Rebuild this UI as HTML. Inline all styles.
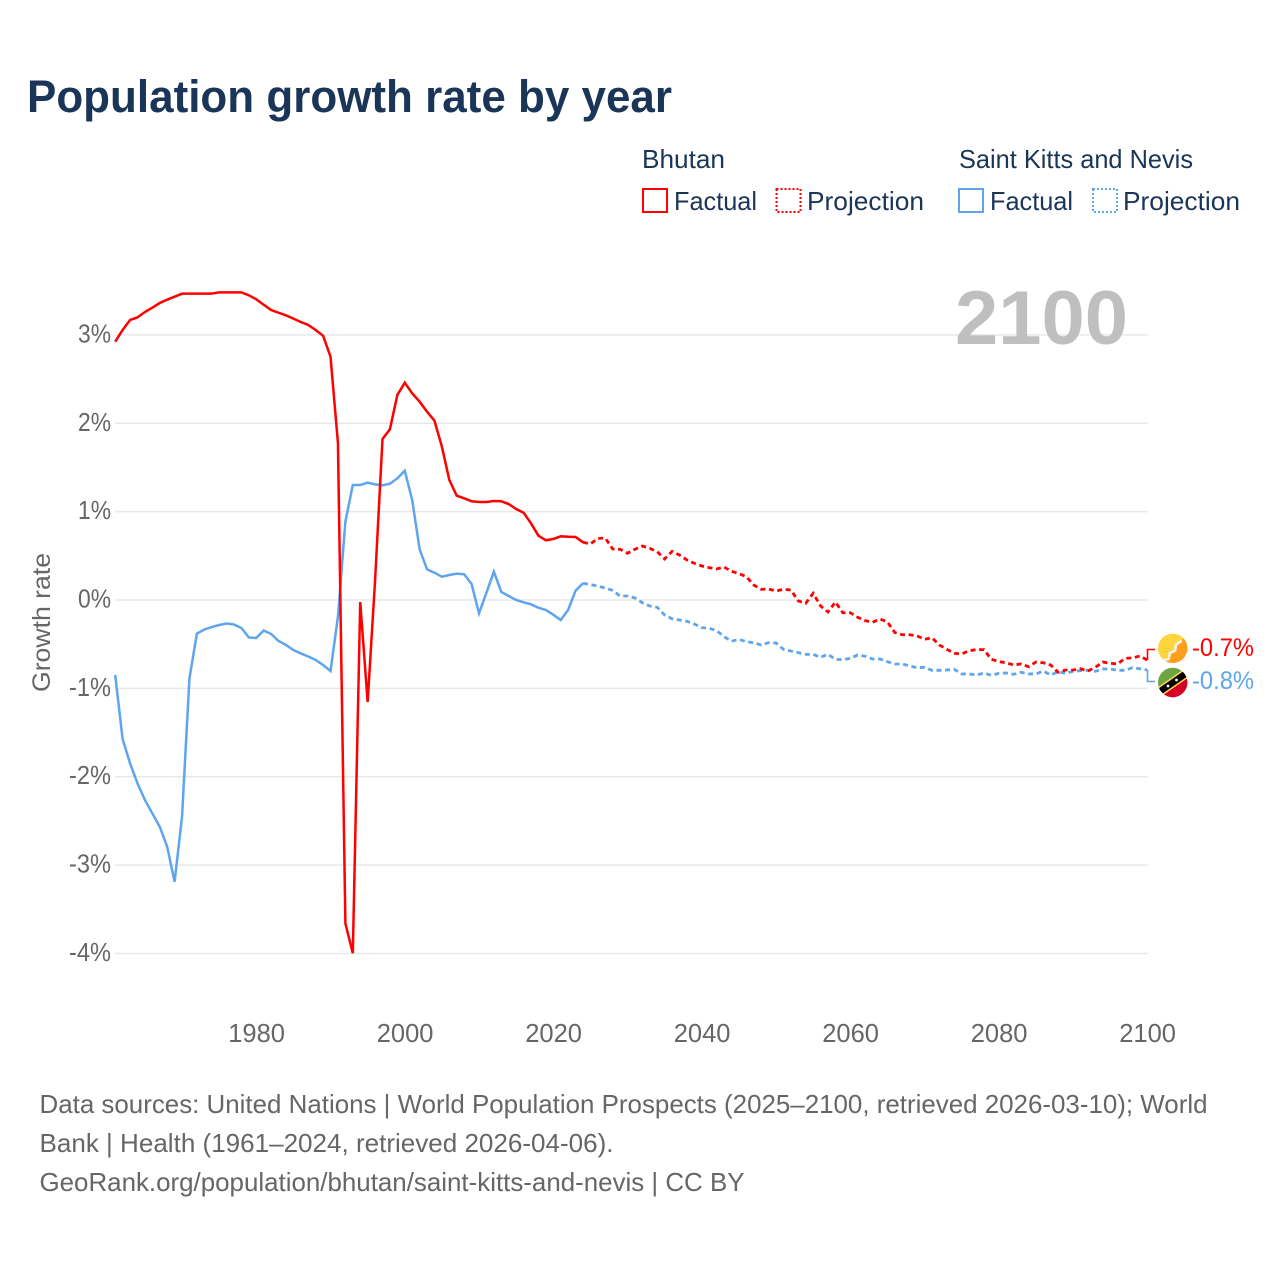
<!DOCTYPE html>
<html lang="en">
<head>
<meta charset="utf-8">
<title>Population growth rate by year</title>
<style>
html,body{margin:0;padding:0;background:#fff;width:1280px;height:1280px;overflow:hidden}
svg{display:block;font-family:"Liberation Sans",sans-serif}
</style>
</head>
<body>
<svg id="chart" xmlns="http://www.w3.org/2000/svg" width="1280" height="1280" viewBox="0 0 1280 1280">
  <rect width="1280" height="1280" fill="#fff"/>
  <text x="27" y="112" font-size="45" font-weight="700" fill="#1a3557" textLength="645" lengthAdjust="spacingAndGlyphs">Population growth rate by year</text>

  <g font-size="26" fill="#1a3557">
    <text x="642" y="168" textLength="83" lengthAdjust="spacingAndGlyphs">Bhutan</text>
    <text x="959" y="168" textLength="234" lengthAdjust="spacingAndGlyphs">Saint Kitts and Nevis</text>
    <rect x="643" y="189" width="24" height="23" fill="none" stroke="#ff0000" stroke-width="2"/>
    <text x="674" y="210" textLength="83" lengthAdjust="spacingAndGlyphs">Factual</text>
    <rect x="776.5" y="189" width="24" height="23" fill="none" stroke="#ff0000" stroke-width="2" stroke-dasharray="2 2"/>
    <text x="807" y="210" textLength="117" lengthAdjust="spacingAndGlyphs">Projection</text>
    <rect x="959" y="189" width="24" height="23" fill="none" stroke="#5ea5ee" stroke-width="2"/>
    <text x="990" y="210" textLength="83" lengthAdjust="spacingAndGlyphs">Factual</text>
    <rect x="1093" y="189" width="24" height="23" fill="none" stroke="#5ea5ee" stroke-width="2" stroke-dasharray="2 2"/>
    <text x="1123" y="210" textLength="117" lengthAdjust="spacingAndGlyphs">Projection</text>
  </g>

  <g id="grid"></g>
  <text x="955" y="344" font-size="76" font-weight="700" fill="#bfbfbf" textLength="173" lengthAdjust="spacingAndGlyphs">2100</text>
  <g id="yticks" font-size="25.5" fill="#666"></g>
  <g id="xticks" font-size="25.5" fill="#666"></g>
  <text transform="translate(50 692) rotate(-90)" font-size="25" fill="#666" textLength="139" lengthAdjust="spacingAndGlyphs">Growth rate</text>
  <g id="series"></g>

  <path d="M1147.5 660V649.5H1155" fill="none" stroke="#ff0000" stroke-width="1.6"/>
  <path d="M1147.5 670V681.5H1155" fill="none" stroke="#5ea5ee" stroke-width="1.6"/>

  <defs>
    <clipPath id="clip-bt"><circle cx="1172.7" cy="648.3" r="14.7"/></clipPath>
    <clipPath id="clip-kn"><circle cx="1172.7" cy="682.5" r="14.7"/></clipPath>
  </defs>
  <g clip-path="url(#clip-bt)">
    <rect x="1157" y="633" width="32" height="32" fill="#ffd53d"/>
    <path d="M1189 632V665H1160Z" fill="#ff9d1c"/>
    <path d="M1163 660.5L1168.5 659L1170 653L1175 650.7L1176 644.7L1181.7 640.7" fill="none" stroke="#f6efe0" stroke-width="2.8"/>
  </g>
  <g clip-path="url(#clip-kn)">
    <rect x="1157" y="667" width="32" height="32" fill="#6da544"/>
    <path d="M1150 704L1196 672V700H1150Z" fill="#d80027"/>
    <path d="M1150 698.3L1195 667.2" stroke="#ffda44" stroke-width="9.5"/>
    <path d="M1150 698.3L1195 667.2" stroke="#000" stroke-width="6.5"/>
    <circle cx="1168" cy="686" r="1.4" fill="#fff"/>
    <circle cx="1176.5" cy="680" r="1.4" fill="#fff"/>
  </g>

  <text x="1192" y="656" font-size="25" fill="#ff0000" textLength="62" lengthAdjust="spacingAndGlyphs">-0.7%</text>
  <text x="1192" y="689" font-size="25" fill="#5ea5ee" textLength="62" lengthAdjust="spacingAndGlyphs">-0.8%</text>

  <g font-size="26" fill="#666">
    <text x="39.5" y="1113" textLength="1168" lengthAdjust="spacingAndGlyphs">Data sources: United Nations | World Population Prospects (2025–2100, retrieved 2026-03-10); World</text>
    <text x="39.5" y="1152" textLength="574" lengthAdjust="spacingAndGlyphs">Bank | Health (1961–2024, retrieved 2026-04-06).</text>
    <text x="39.5" y="1191" textLength="705" lengthAdjust="spacingAndGlyphs">GeoRank.org/population/bhutan/saint-kitts-and-nevis | CC BY</text>
  </g>
</svg>
<script>
var yTickValues = [3, 2, 1, 0, -1, -2, -3, -4];
var yTickLabels = ["3%", "2%", "1%", "0%", "-1%", "-2%", "-3%", "-4%"];
var xTickYears = [1980, 2000, 2020, 2040, 2060, 2080, 2100];
var factualStartYear = 1961;
var projectionStartYear = 2024;

var bhutanFactual = [2.923,3.056,3.169,3.199,3.259,3.308,3.361,3.399,3.433,3.467,3.467,3.467,3.467,3.467,3.482,3.482,3.482,3.482,3.448,3.403,3.342,3.282,3.251,3.222,3.184,3.146,3.112,3.056,2.991,2.753,1.777,-3.659,-3.998,-0.023,-1.154,0.22,1.822,1.932,2.32,2.459,2.339,2.244,2.131,2.029,1.735,1.358,1.18,1.151,1.117,1.109,1.109,1.12,1.117,1.086,1.03,0.988,0.868,0.728,0.676,0.69,0.721,0.716,0.713,0.653];

var bhutanProjection = [0.653,0.634,0.696,0.702,0.577,0.574,0.529,0.574,0.611,0.585,0.547,0.464,0.551,0.509,0.453,0.415,0.385,0.366,0.351,0.373,0.325,0.298,0.264,0.17,0.121,0.124,0.102,0.121,0.113,-0.011,-0.037,0.076,-0.068,-0.136,-0.023,-0.144,-0.144,-0.196,-0.234,-0.252,-0.215,-0.249,-0.368,-0.393,-0.393,-0.407,-0.445,-0.427,-0.509,-0.558,-0.603,-0.611,-0.574,-0.562,-0.562,-0.671,-0.698,-0.71,-0.736,-0.724,-0.755,-0.702,-0.71,-0.736,-0.818,-0.792,-0.792,-0.778,-0.804,-0.762,-0.702,-0.716,-0.724,-0.66,-0.656,-0.634,-0.679];

var kittsFactual = [-0.849,-1.576,-1.848,-2.074,-2.263,-2.414,-2.566,-2.792,-3.188,-2.452,-0.886,-0.381,-0.334,-0.306,-0.283,-0.266,-0.277,-0.317,-0.424,-0.43,-0.345,-0.385,-0.464,-0.509,-0.566,-0.605,-0.639,-0.679,-0.736,-0.804,-0.189,0.886,1.301,1.301,1.328,1.309,1.298,1.316,1.377,1.463,1.132,0.574,0.347,0.309,0.264,0.283,0.298,0.291,0.181,-0.151,0.083,0.32,0.091,0.045,0,-0.026,-0.049,-0.087,-0.113,-0.166,-0.226,-0.113,0.105,0.189];

var kittsProjection = [0.189,0.175,0.158,0.136,0.108,0.045,0.045,0.023,-0.031,-0.068,-0.083,-0.17,-0.212,-0.226,-0.241,-0.272,-0.313,-0.32,-0.347,-0.415,-0.467,-0.445,-0.472,-0.483,-0.509,-0.483,-0.487,-0.558,-0.577,-0.596,-0.615,-0.615,-0.648,-0.615,-0.671,-0.676,-0.66,-0.622,-0.637,-0.668,-0.668,-0.698,-0.724,-0.724,-0.747,-0.766,-0.762,-0.796,-0.796,-0.792,-0.784,-0.837,-0.837,-0.849,-0.826,-0.852,-0.83,-0.826,-0.841,-0.818,-0.837,-0.837,-0.804,-0.849,-0.811,-0.83,-0.807,-0.8,-0.796,-0.807,-0.781,-0.781,-0.796,-0.796,-0.766,-0.778,-0.792];

var SVGNS = "http://www.w3.org/2000/svg";
var RED = "#ff0000";
var BLUE = "#5ea5ee";

function xScale(year) {
  return 115.2 + (year - 1961) * 7.425;
}
function yScale(value) {
  return 600 - value * 88.36;
}
function linePath(values, startYear) {
  var d = "";
  for (var i = 0; i < values.length; i++) {
    d += (i === 0 ? "M" : "L") + xScale(startYear + i).toFixed(2) + " " + yScale(values[i]).toFixed(2);
  }
  return d;
}

var gridGroup = document.getElementById("grid");
var yTickGroup = document.getElementById("yticks");
var xTickGroup = document.getElementById("xticks");
var seriesGroup = document.getElementById("series");

yTickValues.forEach(function (value, i) {
  var line = document.createElementNS(SVGNS, "line");
  
  
  line.setAttribute("x1", 115);
  line.setAttribute("x2", 1148);
  line.setAttribute("y1", yScale(value));
  line.setAttribute("y2", yScale(value));
  line.setAttribute("stroke", "#e8e8e8");
  line.setAttribute("stroke-width", "1.5");
  gridGroup.appendChild(line);

  var label = document.createElementNS(SVGNS, "text");
  
  
  label.setAttribute("x", 111);
  label.setAttribute("y", yScale(value) + 7.5);
  label.setAttribute("text-anchor", "end");
  label.setAttribute("textLength", 33 + (yTickLabels[i].length - 2) * 9);
  label.setAttribute("lengthAdjust", "spacingAndGlyphs");
  label.textContent = yTickLabels[i];
  yTickGroup.appendChild(label);
});

xTickYears.forEach(function (year) {
  var label = document.createElementNS(SVGNS, "text");
  
  
  label.setAttribute("x", xScale(year) + 0.3);
  label.setAttribute("y", 1042);
  label.setAttribute("text-anchor", "middle");
  label.textContent = String(year);
  xTickGroup.appendChild(label);
});

function addSeries(name, values, startYear, color, dashed) {
  var path = document.createElementNS(SVGNS, "path");
  
  
  path.setAttribute("d", linePath(values, startYear));
  path.setAttribute("fill", "none");
  path.setAttribute("stroke", color);
  path.setAttribute("stroke-width", dashed ? "2.8" : "2.5");
  path.setAttribute("stroke-linejoin", "miter");
  if (dashed) {
    path.setAttribute("stroke-dasharray", "5 3.6");
  }
  seriesGroup.appendChild(path);
}

addSeries("line-saint-kitts-factual", kittsFactual, factualStartYear, BLUE, false);
addSeries("line-saint-kitts-projection", kittsProjection, projectionStartYear, BLUE, true);
addSeries("line-bhutan-factual", bhutanFactual, factualStartYear, RED, false);
addSeries("line-bhutan-projection", bhutanProjection, projectionStartYear, RED, true);
</script>
</body>
</html>
